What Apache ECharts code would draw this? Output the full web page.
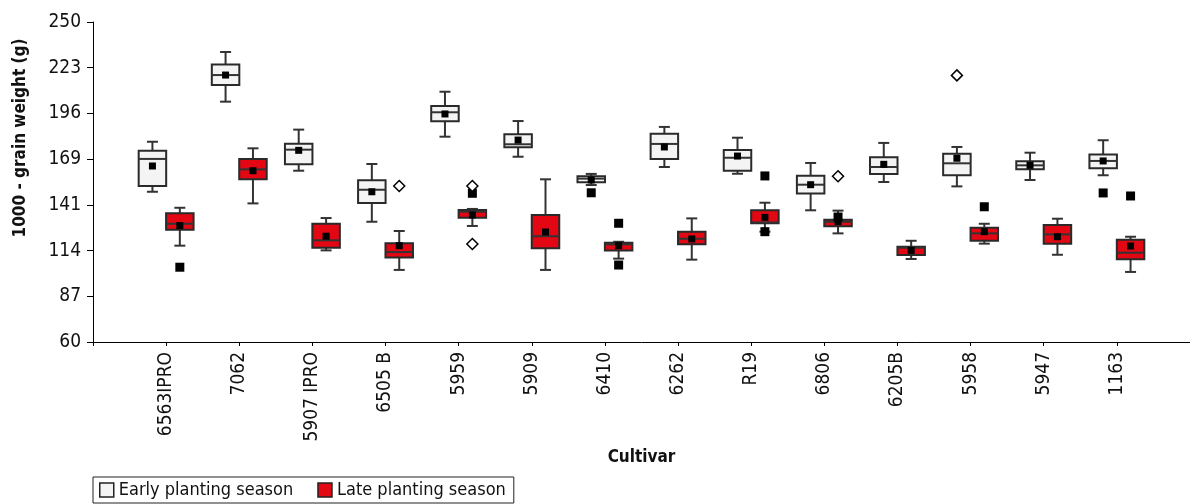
<!DOCTYPE html>
<html>
<head>
<meta charset="utf-8">
<script src="https://cdn.jsdelivr.net/npm/echarts@6/dist/echarts.min.js"></script>
<style>
html, body { margin: 0; padding: 0; background: #fff; }
#main { width: 1190px; height: 504px; }
</style>
</head>
<body>
<div id="main"></div>
<script>
var FONT = '"Liberation Sans Narrow", "DejaVu Sans Condensed", "Arial Narrow", sans-serif';

// cultivars
var categories = ['6563IPRO', '7062', '5907 IPRO', '6505 B', '5959', '5909', '6410', '6262', 'R19', '6806', '6205B', '5958', '5947', '1163'];

// early planting season: min, Q1, median, Q3, max
var earlyMin = [149.2, 202.7, 161.7, 131.4, 181.9, 170.0, 153.2, 163.9, 159.9, 138.2, 155.0, 152.4, 156.2, 159.0];
var earlyQ1 = [152.6, 212.6, 165.5, 142.5, 191.0, 175.6, 154.8, 168.7, 161.7, 148.1, 159.7, 159.0, 162.5, 163.1];
var earlyMed = [168.7, 218.5, 174.2, 150.4, 196.4, 177.4, 157.0, 177.6, 169.4, 153.4, 163.9, 166.1, 164.9, 167.5];
var earlyQ3 = [173.6, 224.7, 177.7, 156.0, 200.1, 183.3, 158.4, 183.7, 174.0, 158.7, 169.7, 171.8, 167.3, 171.4];
var earlyMax = [178.9, 232.2, 186.1, 165.7, 208.6, 191.2, 159.8, 187.7, 181.3, 166.3, 178.2, 175.8, 172.4, 179.8];
var earlyMean = [164.5, 218.5, 173.8, 149.2, 195.4, 179.9, 156.2, 175.8, 170.4, 153.4, 165.5, 169.1, 164.9, 167.5];

// late planting season
var lateMin = [117.2, 142.3, 114.4, 102.8, 128.9, 102.8, 109.5, 108.9, 125.5, 124.5, 109.3, 118.4, 111.8, 101.6];
var lateQ1 = [126.7, 156.6, 116.0, 110.1, 133.8, 115.6, 114.4, 118.0, 130.5, 128.7, 111.7, 120.1, 118.4, 109.1];
var lateMed = [130.2, 162.5, 120.4, 113.4, 137.4, 122.8, 118.0, 121.3, 131.0, 131.4, 116.0, 124.5, 123.9, 113.0];
var lateQ3 = [136.4, 168.7, 130.2, 118.6, 138.4, 135.4, 119.0, 125.5, 138.2, 132.6, 116.6, 127.9, 129.5, 120.7];
var lateMax = [139.7, 175.0, 133.6, 125.9, 139.0, 156.6, 119.5, 133.4, 142.7, 138.0, 120.1, 130.2, 133.2, 122.5];
var lateMean = [129.1, 161.7, 122.8, 117.2, 135.4, 125.3, 117.2, 121.2, 134.0, 131.5, 114.4, 125.5, 122.5, 117.0];

// outliers (filled squares) and extremes (open diamonds): [cultivar, value]
var earlyOutliers = [['6410', 148.6], ['1163', 148.5]];
var earlyExtremes = [['5958', 218.3]];
var lateOutliers = [['6563IPRO', 104.4], ['5959', 148.3], ['6410', 130.5], ['6410', 105.7], ['R19', 158.6], ['R19', 125.5], ['6806', 134.2], ['5958', 140.3], ['1163', 146.7]];
var lateExtremes = [['6505 B', 152.6], ['5959', 152.6], ['5959', 118.2], ['6806', 158.4]];

var yTicks = [60, 87, 114, 141, 169, 196, 223, 250];

var OFFSET = 13.7, BOX_W = 27.5, CAP_W = 11;

function boxData(mn, q1, md, q3, mx) {
	return categories.map(function (c, i) {
		return [i, mn[i], q1[i], md[i], q3[i], mx[i]];
	});
}
function pointData(list) {
	return list.map(function (d) { return [categories.indexOf(d[0]), d[1]]; });
}

function boxRenderer(dx, fill) {
	return function (params, api) {
		var i = api.value(0);
		var x = api.coord([i, 60])[0] + dx;
		var y = function (k) { return api.coord([i, api.value(k)])[1]; };
		var lineStyle = { stroke: '#333', lineWidth: 2 };
		var yMin = y(1), yQ1 = y(2), yMed = y(3), yQ3 = y(4), yMax = y(5);
		return {
			type: 'group',
			children: [
				{ type: 'line', shape: { x1: x, y1: yMax, x2: x, y2: yQ3 }, style: lineStyle },
				{ type: 'line', shape: { x1: x, y1: yQ1, x2: x, y2: yMin }, style: lineStyle },
				{ type: 'line', shape: { x1: x - CAP_W / 2, y1: yMax, x2: x + CAP_W / 2, y2: yMax }, style: lineStyle },
				{ type: 'line', shape: { x1: x - CAP_W / 2, y1: yMin, x2: x + CAP_W / 2, y2: yMin }, style: lineStyle },
				{ type: 'rect', shape: { x: x - BOX_W / 2, y: yQ3, width: BOX_W, height: yQ1 - yQ3 },
					style: { fill: fill, stroke: '#2a2a2a', lineWidth: 2 } },
				{ type: 'line', shape: { x1: x - BOX_W / 2, y1: yMed, x2: x + BOX_W / 2, y2: yMed }, style: lineStyle }
			]
		};
	};
}

var EARLY_FILL = '#f4f4f4', LATE_FILL = '#e30613';

var myChart = echarts.init(document.getElementById('main'));
var option = {
	animation: false,
	textStyle: { fontFamily: FONT },
	grid: { left: 93, right: -8, top: 22, bottom: 162 },
	legend: {
		left: 93,
		top: 477,
		padding: [4, 8, 4, 6],
		itemGap: 24,
		itemWidth: 14,
		itemHeight: 14,
		borderColor: '#222',
		borderWidth: 1,
		icon: 'rect',
		textStyle: { fontSize: 18, color: '#111', fontFamily: FONT },
		data: [
			{ name: 'Early planting season', itemStyle: { color: EARLY_FILL, borderColor: '#222', borderWidth: 1.5 } },
			{ name: 'Late planting season', itemStyle: { color: LATE_FILL, borderColor: '#222', borderWidth: 1.5 } }
		]
	},
	xAxis: {
		type: 'category',
		data: categories,
		min: -1,
		max: 14,
		boundaryGap: false,
		name: 'Cultivar',
		nameLocation: 'middle',
		nameGap: 105,
		nameTextStyle: { fontSize: 17, fontWeight: 'bold', color: '#111', fontFamily: FONT },
		axisLine: { lineStyle: { color: '#000', width: 1 } },
		axisTick: { length: 4, interval: 0, lineStyle: { color: '#000' } },
		axisLabel: {
			interval: 0,
			rotate: 90,
			margin: 10,
			fontSize: 19,
			color: '#111',
			fontFamily: FONT,
			formatter: function (v) { return v == null || v === 'undefined' ? '' : v; }
		},
		splitLine: { show: false }
	},
	yAxis: {
		type: 'value',
		min: 60,
		max: 250,
		interval: 190 / 7,
		name: '1000 - grain weight (g)',
		nameLocation: 'middle',
		nameGap: 64,
		nameTextStyle: { fontSize: 17, fontWeight: 'bold', color: '#111', fontFamily: FONT, padding: [0, 0, 0, 88] },
		axisLine: { show: true, lineStyle: { color: '#000', width: 1 } },
		axisTick: { show: true, length: 6, lineStyle: { color: '#000' } },
		axisLabel: {
			margin: 12,
			fontSize: 19,
			color: '#111',
			fontFamily: FONT,
			formatter: function (v) { return String(yTicks[Math.round((v - 60) / (190 / 7))]); }
		},
		splitLine: { show: false }
	},
	series: [
		{
			name: 'Early planting season',
			type: 'custom',
			renderItem: boxRenderer(-OFFSET, EARLY_FILL),
			itemStyle: { color: EARLY_FILL },
			encode: { x: 0, y: [1, 2, 3, 4, 5] },
			data: boxData(earlyMin, earlyQ1, earlyMed, earlyQ3, earlyMax),
			z: 2
		},
		{
			name: 'Late planting season',
			type: 'custom',
			renderItem: boxRenderer(OFFSET, LATE_FILL),
			itemStyle: { color: LATE_FILL },
			encode: { x: 0, y: [1, 2, 3, 4, 5] },
			data: boxData(lateMin, lateQ1, lateMed, lateQ3, lateMax),
			z: 2
		},
		{
			name: 'Early mean', type: 'scatter', symbol: 'rect', symbolSize: 7,
			symbolOffset: [-OFFSET, 0], itemStyle: { color: '#000', opacity: 1 }, z: 5,
			data: categories.map(function (c, i) { return [i, earlyMean[i]]; })
		},
		{
			name: 'Late mean', type: 'scatter', symbol: 'rect', symbolSize: 7,
			symbolOffset: [OFFSET, 0], itemStyle: { color: '#000', opacity: 1 }, z: 5,
			data: categories.map(function (c, i) { return [i, lateMean[i]]; })
		},
		{
			name: 'Early outliers', type: 'scatter', symbol: 'rect', symbolSize: 9,
			symbolOffset: [-OFFSET, 0], itemStyle: { color: '#000', opacity: 1 }, z: 6,
			data: pointData(earlyOutliers)
		},
		{
			name: 'Late outliers', type: 'scatter', symbol: 'rect', symbolSize: 9,
			symbolOffset: [OFFSET, 0], itemStyle: { color: '#000', opacity: 1 }, z: 6,
			data: pointData(lateOutliers)
		},
		{
			name: 'Early extremes', type: 'scatter', symbol: 'diamond', symbolSize: 11,
			symbolOffset: [-OFFSET, 0], itemStyle: { color: '#fff', borderColor: '#000', borderWidth: 1.5, opacity: 1 }, z: 6,
			data: pointData(earlyExtremes)
		},
		{
			name: 'Late extremes', type: 'scatter', symbol: 'diamond', symbolSize: 11,
			symbolOffset: [OFFSET, 0], itemStyle: { color: '#fff', borderColor: '#000', borderWidth: 1.5, opacity: 1 }, z: 6,
			data: pointData(lateExtremes)
		}
	]
};
myChart.setOption(option);
</script>
</body>
</html>
